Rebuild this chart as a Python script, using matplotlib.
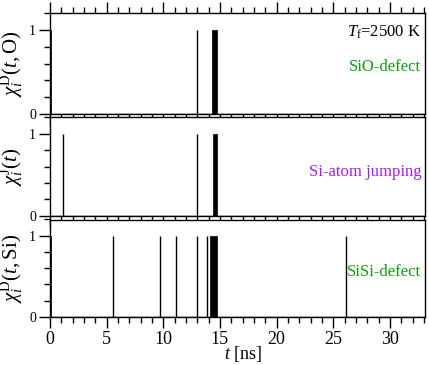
import matplotlib
matplotlib.use("Agg")
import matplotlib.pyplot as plt
from matplotlib.ticker import MultipleLocator

# event data (times in ns)
sio_spikes = [13.0]
sio_blocks = [(0.0, 0.1), (14.32, 14.7)]
jump_spikes = [1.18, 13.0]
jump_blocks = [(14.35, 14.7)]
sisi_spikes = [5.6, 9.7, 11.15, 13.0, 13.88, 26.1]
sisi_blocks = [(0.0, 0.08), (14.12, 14.7)]

ylabels = [r'$\chi_i^{\rm D}(t,{\rm O})$',
           r'$\chi_i^{\rm J}(t)$',
           r'$\chi_i^{\rm D}(t,{\rm Si})$']
names = ['SiO-defect', 'Si-atom jumping', 'SiSi-defect']
name_colors = ['#109a10', '#a020e8', '#109a10']

plt.rcParams['font.family'] = 'Liberation Serif'
plt.rcParams['mathtext.fontset'] = 'custom'
plt.rcParams['mathtext.rm'] = 'Liberation Serif'
plt.rcParams['mathtext.it'] = 'Liberation Serif:italic'

W, H = 429, 365
fig = plt.figure(figsize=(W / 100, H / 100), dpi=100)

# panel boxes in pixels: (top, bottom)
boxes = [(13, 114), (117.5, 215.7), (219.5, 316.7)]
left, right = 50, 425

panels = [(sio_spikes, sio_blocks), (jump_spikes, jump_blocks),
          (sisi_spikes, sisi_blocks)]

axes = []
for k, (top, bot) in enumerate(boxes):
    ax = fig.add_axes([left / W, 1 - bot / H, (right - left) / W, (bot - top) / H])
    spikes, blocks = panels[k]
    ax.vlines(spikes, 0, 1, color='black', lw=1.0)
    for a, b in blocks:
        ax.fill_between([a, b], 0, 1, color='black', lw=0.5, edgecolor='black')
    ax.plot([0, 33.1], [0, 0], color='black', lw=1.0)

    ax.set_xlim(0, 33.1)
    ax.set_ylim(0, 1.2)
    ax.xaxis.set_major_locator(MultipleLocator(5))
    ax.xaxis.set_minor_locator(MultipleLocator(1))
    ax.yaxis.set_major_locator(MultipleLocator(1))
    ax.yaxis.set_minor_locator(MultipleLocator(0.2))
    ax.tick_params(which='both', direction='out', width=1.0,
                   top=(k == 0), right=False)
    ax.tick_params(which='major', length=8)
    ax.tick_params(which='minor', length=4.3)
    ax.tick_params(axis='y', labelsize=10, pad=2)
    ax.tick_params(axis='x', labelsize=13, labelbottom=(k == 2), pad=2)
    for s in ax.spines.values():
        s.set_linewidth(1.0)

    fig.text(12 / W, 1 - (top + bot) / 2 / H, ylabels[k], fontsize=15,
             rotation=90, ha='center', va='center')

    yc = {0: 66.7, 1: 171.7, 2: 271.7}[k]
    ax.text(0.99, (bot - yc) / (bot - top), names[k], color=name_colors[k],
            fontsize=12, ha='right', va='center', transform=ax.transAxes)
    axes.append(ax)

axes[0].text(0.99, (114 - 32) / (114 - 13), r'$T_{\rm f}$=$\mathit{2500}$ K',
             fontsize=12, ha='right', va='center', transform=axes[0].transAxes)

fig.text(243 / W, 1 - 364 / H, r'$t$ [ns]', fontsize=13, ha='center', va='bottom')

fig.savefig('out.png', dpi=100)
